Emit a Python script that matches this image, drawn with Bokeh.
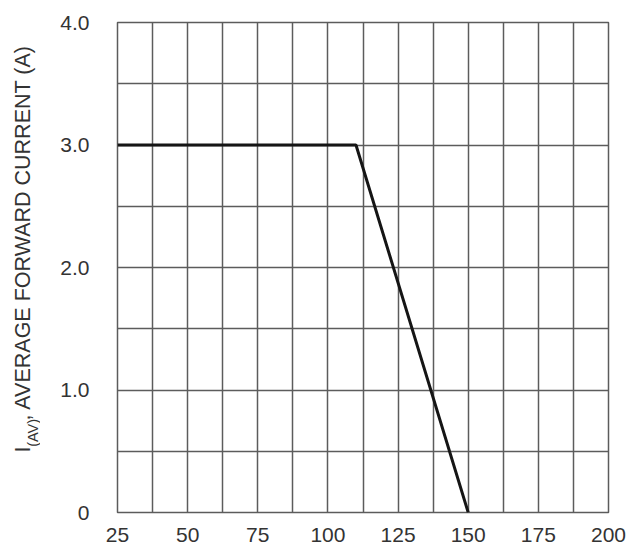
import math
from bokeh.plotting import figure
from bokeh.layouts import row
from bokeh.models import Range1d, FixedTicker
from bokeh.core.properties import value
from bokeh.embed import file_html
from bokeh.resources import INLINE

# Data
temp = [25, 110, 150]
current = [3.0, 3.0, 0.0]
x_major = [25, 50, 75, 100, 125, 150, 175, 200]
x_minor = [37.5, 62.5, 87.5, 112.5, 137.5, 162.5, 187.5]
y_major = [0, 1, 2, 3, 4]
y_minor = [0.5, 1.5, 2.5, 3.5]
y_labels = ["0", "1.0", "2.0", "3.0", "4.0"]
ytitle_main = "I"
ytitle_sub = "(AV)"
ytitle_rest = ", AVERAGE FORWARD CURRENT (A)"

FONT = "Liberation Sans"
TXT = "#333333"
GRID = "#5c5c5c"

H = 548
LW = 40            # width of the strip that carries the y-axis title
FW, FH = 491, 490
TOP = 22

# ---- main chart ----
p = figure(width=77 + FW + 20, height=H, output_backend="svg",
           toolbar_location=None, x_range=Range1d(25, 200), y_range=Range1d(0, 4),
           min_border_left=77, min_border_right=20, min_border_top=TOP,
           min_border_bottom=H - TOP - FH)

p.xaxis.ticker = FixedTicker(ticks=x_major, minor_ticks=x_minor)
p.yaxis.ticker = FixedTicker(ticks=y_major, minor_ticks=y_minor)
p.yaxis.major_label_overrides = {float(k): v for k, v in zip(y_major, y_labels)}

for ax in (p.xaxis[0], p.yaxis[0]):
    ax.axis_line_color = None
    ax.major_tick_line_color = None
    ax.minor_tick_line_color = None
    ax.major_tick_out = 0
    ax.major_tick_in = 0
    ax.minor_tick_out = 0
    ax.minor_tick_in = 0
    ax.major_label_text_font = FONT
    ax.major_label_text_font_size = "21px"
    ax.major_label_text_color = TXT
p.xaxis.major_label_standoff = 15
p.yaxis.major_label_standoff = 28

for g in (p.xgrid[0], p.ygrid[0]):
    g.grid_line_color = GRID
    g.grid_line_width = 1.5
    g.minor_grid_line_color = GRID
    g.minor_grid_line_width = 1.5

p.outline_line_color = GRID
p.outline_line_width = 1.5
p.background_fill_color = "white"
p.border_fill_color = "white"

p.line(temp, current, line_color="#151515", line_width=3)

# ---- y-axis title strip (pixel coordinates, y measured upward) ----
t = figure(width=LW, height=H, output_backend="svg", toolbar_location=None,
           x_range=Range1d(0, LW), y_range=Range1d(0, H),
           min_border_left=0, min_border_right=0, min_border_top=0, min_border_bottom=0)
t.axis.visible = False
t.grid.visible = False
t.outline_line_color = None
t.border_fill_color = "white"
t.background_fill_color = "white"

fs_main = 21.5
fs_sub = 14.5
base_main = 22
base_sub = 32
start = H - 481
w_I = 0.278 * fs_main
w_sub = 2.0 * fs_sub
common = dict(angle=math.pi / 2, text_font=value(FONT), text_color=TXT,
              text_baseline="alphabetic", text_align="left")
t.text(x=[base_main], y=[start], text=[ytitle_main],
       text_font_size=f"{fs_main}px", **common)
t.text(x=[base_sub], y=[start + w_I + 0.5], text=[ytitle_sub],
       text_font_size=f"{fs_sub}px", **common)
t.text(x=[base_main], y=[start + w_I + w_sub + 1], text=[ytitle_rest],
       text_font_size=f"{fs_main}px", **common)

layout = row(t, p, spacing=0)
open("out.html", "w").write(file_html(layout, INLINE))
